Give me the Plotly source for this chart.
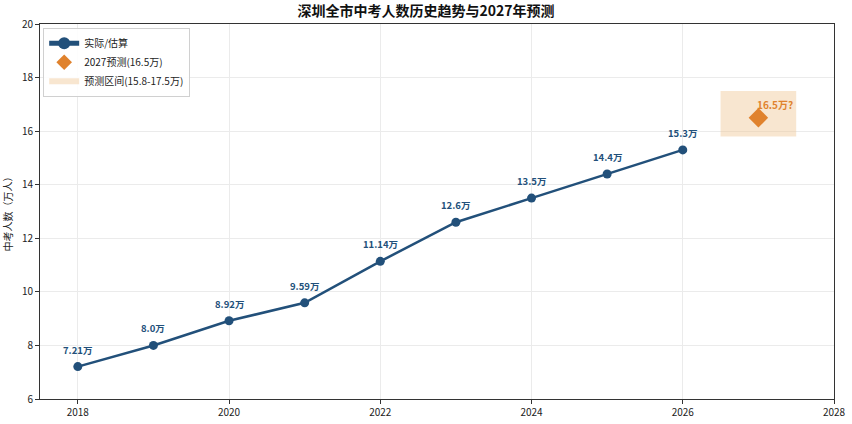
import plotly.graph_objects as go

years = [2018, 2019, 2020, 2021, 2022, 2023, 2024, 2025, 2026]
values = [7.21, 8.0, 8.92, 9.59, 11.14, 12.6, 13.5, 14.4, 15.3]
labels = ["7.21万", "8.0万", "8.92万", "9.59万", "11.14万", "12.6万", "13.5万", "14.4万", "15.3万"]
pred_year = [2027]
pred_value = [16.5]
band_x = [2026.5, 2027.5]
band_y = [15.8, 17.5]

FONT = "Noto Sans CJK SC"
BLUE = "#22507a"
ORANGE = "#e0822d"

fig = go.Figure()
fig.add_trace(go.Scatter(
    x=[band_x[0], band_x[1], band_x[1], band_x[0], band_x[0]],
    y=[band_y[0], band_y[0], band_y[1], band_y[1], band_y[0]],
    fill="toself", fillcolor="rgba(240,200,150,0.45)", mode="none",
    name="预测区间(15.8-17.5万)", legendrank=3))
fig.add_trace(go.Scatter(
    x=years, y=values, mode="lines+markers", name="实际/估算",
    line=dict(color=BLUE, width=2.5), marker=dict(size=9, color=BLUE),
    legendrank=1))
fig.add_trace(go.Scatter(
    x=pred_year, y=pred_value, mode="markers", name="2027预测(16.5万)",
    marker=dict(symbol="diamond", size=15, color=ORANGE), legendrank=2))

for x, y, t in zip(years, values, labels):
    fig.add_annotation(x=x, y=y, text=t, showarrow=False, yshift=17,
                       font=dict(family=FONT, size=9.5, color=BLUE, weight="bold"))
fig.add_annotation(x=pred_year[0], y=pred_value[0], text="16.5万?", showarrow=False,
                   xanchor="left", xshift=-3, yshift=13,
                   font=dict(family=FONT, size=10, color=ORANGE, weight="bold"))

axis_common = dict(showline=True, linecolor="#333", linewidth=1, mirror=True,
                   showgrid=True, gridcolor="#ebebeb", ticks="outside", ticklen=4,
                   tickcolor="#333", zeroline=False, automargin=False,
                   tickfont=dict(family=FONT, size=10, color="#222"))
fig.update_layout(
    width=852, height=424,
    margin=dict(l=40, r=18, t=24, b=25),
    plot_bgcolor="white", paper_bgcolor="white",
    title=dict(text="深圳全市中考人数历史趋势与2027年预测", x=0.5, xanchor="center",
               y=0.985, yanchor="top",
               font=dict(family=FONT, size=14, color="#111", weight="bold")),
    xaxis=dict(range=[2017.5, 2028], tickvals=[2018, 2020, 2022, 2024, 2026, 2028],
               **axis_common),
    yaxis=dict(range=[6, 20], tickvals=[6, 8, 10, 12, 14, 16, 18, 20],
               title=dict(text="中考人数（万人）", standoff=8,
                          font=dict(family=FONT, size=10, color="#222")),
               **axis_common),
    legend=dict(x=0.004, y=0.99, xanchor="left", yanchor="top",
                bgcolor="rgba(255,255,255,0.9)", bordercolor="#d0d0d0", borderwidth=1,
                font=dict(family=FONT, size=10, color="#222"), tracegroupgap=0,
                itemsizing="constant"),
    showlegend=True,
)
fig.write_html("out.html")
